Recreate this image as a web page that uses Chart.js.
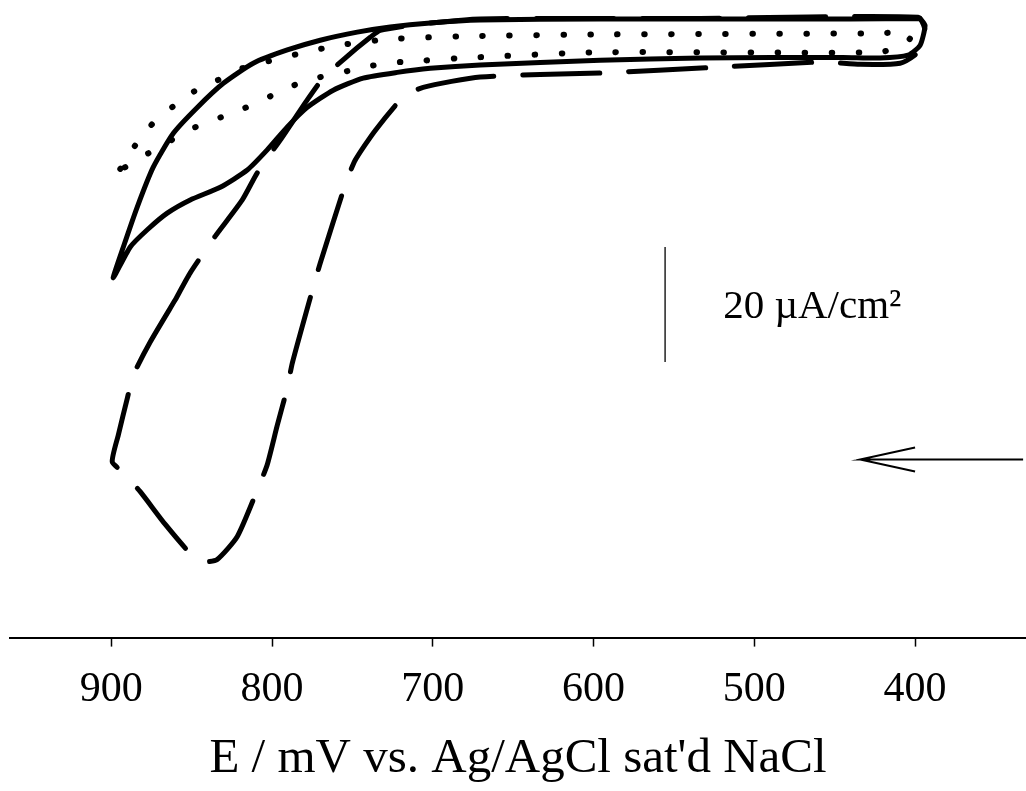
<!DOCTYPE html>
<html>
<head>
<meta charset="utf-8">
<script src="https://cdn.jsdelivr.net/npm/chart.js@4.4.0/dist/chart.umd.min.js"></script>
<style>
  body { margin: 0; background: #fff; }
  canvas { display: block; }
</style>
</head>
<body>
<canvas id="cvChart" width="1026" height="791"></canvas>
<script>
// potential in mV, current density in uA/cm2
const xTicks = [900, 800, 700, 600, 500, 400];

const solidE = [396.9, 440.4, 533.7, 595.9, 670.5, 701.6, 726.5, 747.0, 770.0, 790.5, 811.7, 830.3, 846.5, 861.4, 873.9, 883.8, 892.5, 898.8,
  888.2, 877.6, 865.2, 850.9, 832.2, 815.4, 803.0, 790.5, 778.1, 761.9, 743.3, 722.1, 701.6, 670.5, 595.9, 533.7, 444.8, 421.8, 404.4, 396.9, 393.8, 396.9];
const solidI = [3.8, 3.7, 3.7, 3.7, 3.5, 3.0, 2.3, 1.4, 0.0, -1.7, -4.0, -7.5, -11.7, -16.2, -22.1, -29.0, -36.0, -41.4,
  -36.0, -33.0, -30.1, -27.8, -25.6, -22.6, -19.1, -15.1, -11.7, -8.7, -6.6, -5.6, -4.9, -4.3, -3.5, -3.1, -3.0, -3.1, -2.6, -0.9, 2.6, 3.8];

const dottedE = [894.4, 885.1, 873.9, 861.4, 848.4, 834.1, 819.8, 804.2, 782.5, 758.8, 726.5, 678.6, 595.9, 421.8, 405.6, 403.1, 409.3,
  421.8, 595.9, 681.7, 713.4, 729.6, 745.1, 775.6, 790.5, 804.9, 818.5, 833.5, 849.0, 877.0, 891.3, 894.4];
const dottedI = [-22.4, -18.3, -14.4, -11.5, -8.9, -7.0, -5.0, -3.8, -2.3, -0.9, 0.2, 0.7, 1.0, 1.2, 1.4, 0.3, -0.9,
  -2.1, -2.1, -3.1, -3.7, -4.0, -4.9, -6.8, -8.3, -10.3, -12.0, -13.6, -15.3, -19.7, -22.1, -22.4];

const dashedE = [860.2, 875.7, 886.3, 890.0, 895.6, 899.4, 893.2, 882.0, 866.4, 849.0, 841.5, 834.1, 821.6, 808.6, 803.0, 796.8, 790.5,
  787.4, 774.4, 770.0, 754.5, 748.3, 735.8, 718.4, 706.0, 670.5, 595.9, 523.1, 457.8, 434.2, 409.3, 398.1, 393.8, 398.1,
  533.7, 670.5, 707.8, 732.7, 738.9, 754.5, 768.2, 778.1, 793.7, 809.2, 818.5, 835.3, 850.9, 860.2];
const dashedI = [-45.2, -52.5, -58.3, -62.3, -68.7, -73.4, -75.1, -78.6, -84.3, -89.9, -90.8, -90.4, -86.4, -77.9, -73.9, -67.1, -60.5,
  -56.2, -43.0, -38.8, -25.2, -20.9, -15.7, -9.9, -8.2, -6.4, -5.7, -4.7, -3.8, -4.2, -4.0, -2.1, 1.7, 4.0,
  3.8, 3.7, 2.8, 1.7, 0.5, -3.1, -6.6, -10.4, -16.9, -23.1, -27.8, -34.1, -40.5, -45.2];

// 20 uA/cm2 scale bar and the scan direction arrow
const barE = [555.5, 555.5];
const barI = [-36.0, -56.0];
const arrowE = [332.8, 434.2, 400.0, 434.2, 400.0];
const arrowI = [-73.0, -73.0, -70.9, -73.0, -75.1];

const barLabel = "20 \u00b5A/cm\u00b2";
const barLabelE = 519.4;
const barLabelI = -46.4;

function toPoints(xs, ys) {
  return xs.map((x, i) => ({ x: x, y: ys[i] }));
}

const serif = "'Liberation Serif', 'Times New Roman', serif";

const labelPlugin = {
  id: "barLabel",
  afterDatasetsDraw(chart) {
    const c = chart.ctx;
    const xs = chart.scales.x;
    const ys = chart.scales.y;
    c.save();
    c.fillStyle = "#000";
    c.font = "41px " + serif;
    c.textAlign = "left";
    c.textBaseline = "middle";
    c.fillText(barLabel, xs.getPixelForValue(barLabelE), ys.getPixelForValue(barLabelI));
    c.restore();
  },
};

const ctx = document.getElementById("cvChart").getContext("2d");

const chart = new Chart(ctx, {
  type: "line",
  data: {
    datasets: [
      {
        label: "solid",
        data: toPoints(solidE, solidI),
        borderColor: "#000",
        borderWidth: 5,
        tension: 0.2,
        borderCapStyle: "round",
        borderJoinStyle: "round",
      },
      {
        label: "dotted",
        data: toPoints(dottedE, dottedI),
        borderColor: "#000",
        borderWidth: 6,
        tension: 0.2,
        borderDash: [0.5, 26.5],
        borderCapStyle: "round",
        borderJoinStyle: "round",
      },
      {
        label: "dashed",
        data: toPoints(dashedE, dashedI),
        borderColor: "#000",
        borderWidth: 5,
        tension: 0.2,
        borderDash: [77, 29],
        borderCapStyle: "round",
        borderJoinStyle: "round",
      },
      {
        label: "scale bar",
        data: toPoints(barE, barI),
        borderColor: "#222",
        borderWidth: 1.5,
        tension: 0,
      },
      {
        label: "arrow",
        data: toPoints(arrowE, arrowI),
        borderColor: "#000",
        borderWidth: 2,
        tension: 0,
      },
    ],
  },
  options: {
    responsive: false,
    animation: false,
    layout: { padding: { left: 10, right: 0, top: 0, bottom: 0 } },
    elements: { point: { radius: 0 } },
    plugins: {
      legend: { display: false },
      tooltip: { enabled: false },
    },
    scales: {
      x: {
        type: "linear",
        reverse: true,
        min: 331,
        max: 963,
        afterBuildTicks: function (axis) {
          axis.ticks = xTicks.map((v) => ({ value: v }));
        },
        grid: {
          drawOnChartArea: false,
          drawTicks: true,
          tickLength: 9,
          tickColor: "#000",
          tickWidth: 1.5,
        },
        border: { display: true, color: "#000", width: 2 },
        ticks: {
          color: "#000",
          padding: 18,
          maxRotation: 0,
          font: { family: serif, size: 42 },
        },
        title: {
          display: true,
          text: "E / mV vs. Ag/AgCl sat'd NaCl",
          color: "#000",
          font: { family: serif, size: 49, lineHeight: 1.0 },
          padding: { top: 2, bottom: 7 },
        },
      },
      y: {
        display: false,
        min: -104,
        max: 7,
      },
    },
  },
  plugins: [labelPlugin],
});
</script>
</body>
</html>
